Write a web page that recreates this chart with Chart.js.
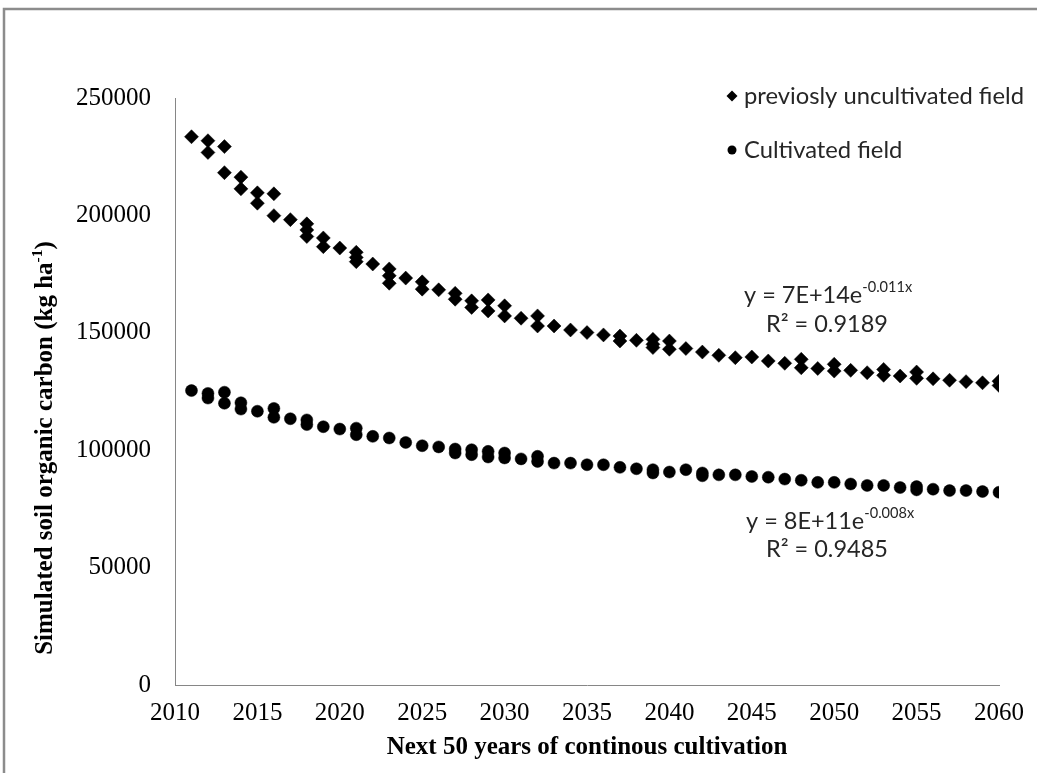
<!DOCTYPE html>
<html>
<head>
<meta charset="utf-8">
<title>Simulated soil organic carbon</title>
<script src="https://cdn.jsdelivr.net/npm/chart.js"></script>
<style>
  html, body { margin: 0; padding: 0; background: #ffffff; }
  #wrap { width: 1037px; height: 773px; position: relative; }
</style>
</head>
<body>
<div id="wrap"><canvas id="soc" width="1037" height="773"></canvas></div>
<script>
// Simulation years
const years = [
  2011, 2012, 2013, 2014, 2015, 2016, 2017, 2018, 2019, 2020,
  2021, 2022, 2023, 2024, 2025, 2026, 2027, 2028, 2029, 2030,
  2031, 2032, 2033, 2034, 2035, 2036, 2037, 2038, 2039, 2040,
  2041, 2042, 2043, 2044, 2045, 2046, 2047, 2048, 2049, 2050,
  2051, 2052, 2053, 2054, 2055, 2056, 2057, 2058, 2059, 2060
];

// Soil organic carbon (kg/ha), one list of simulated runs per year
const uncultivated = [
  [233500], [231800, 226800], [229300, 218200], [216300, 211300], [209600, 205200],
  [209200, 199900], [198200], [196400, 193800, 191000], [190400, 186700], [186100],
  [184300, 182100, 180300], [179300], [177200, 174300, 171100], [173300], [171700, 168600],
  [168300], [166800, 164300], [163600, 160800], [164000, 159300], [161500, 157200],
  [156200], [157200, 152900], [152900], [151200], [150100],
  [149100], [148600, 146500], [146800], [147200, 145100, 143700], [146500, 143000],
  [143300], [141800], [140400], [139400], [139700],
  [138000], [137000], [138700, 135100], [134800], [136600, 133700],
  [134000], [133000], [134400, 131900], [131600], [133300, 130600],
  [130400], [129800], [129200], [128700], [129400, 127600]
];

const cultivated = [
  [125400], [124200, 122200], [124700, 120000], [120200, 117500], [116600],
  [117800, 114000], [113400], [112900, 110900], [110000], [109000],
  [109400, 106600], [105900], [105200], [103300], [101900],
  [101400], [100500, 98800], [100200, 98100], [99500, 97100], [98800, 96700],
  [96300], [97400, 95200], [94500], [94500], [93800],
  [93800], [92700], [92100], [91700, 90300], [90700],
  [91700], [90300, 89100], [89500], [89500], [88800],
  [88500], [87700], [87200], [86300], [86300],
  [85600], [85000], [85000], [84100], [84500, 83100],
  [83400], [82800], [82800], [82400], [82100]
];

// Axis ticks
const xTicks = [2010, 2015, 2020, 2025, 2030, 2035, 2040, 2045, 2050, 2055, 2060];
const yTicks = [0, 50000, 100000, 150000, 200000, 250000];

// Series names and fitted trend annotations
const seriesNames = ['previosly uncultivated field', 'Cultivated field'];
const trendEquations = [
  { base: 'y = 7E+14e', exp: '-0.011x', r2: '0.9189' },
  { base: 'y = 8E+11e', exp: '-0.008x', r2: '0.9485' }
];

function toPoints(vals) {
  const pts = [];
  vals.forEach((runs, i) => runs.forEach(v => pts.push({ x: years[i], y: v })));
  return pts;
}

const SERIF = '"Liberation Serif", "Times New Roman", serif';
const SANS = 'Lato, "Open Sans", sans-serif';
const INK = '#262626';

function fitSize(ctx, text, family, weight, target) {
  ctx.font = weight + ' 20px ' + family;
  return 20 * target / ctx.measureText(text).width;
}

// Draws a run of normal + superscript pieces starting at x (left), vertical middle at y
function drawRich(ctx, x, y, pieces, size, family, weight) {
  let cx = x;
  pieces.forEach(p => {
    const s = p.sup ? size * 0.62 : size;
    ctx.font = weight + ' ' + s + 'px ' + family;
    ctx.fillText(p.t, cx, p.sup ? y - size * 0.33 : y);
    cx += ctx.measureText(p.t).width;
  });
  return cx - x;
}
function richWidth(ctx, pieces, size, family, weight) {
  let w = 0;
  pieces.forEach(p => {
    ctx.font = weight + ' ' + (p.sup ? size * 0.62 : size) + 'px ' + family;
    w += ctx.measureText(p.t).width;
  });
  return w;
}

function marker(ctx, style, x, y, r) {
  ctx.beginPath();
  if (style === 'rectRot') {
    ctx.moveTo(x, y - r); ctx.lineTo(x + r, y); ctx.lineTo(x, y + r); ctx.lineTo(x - r, y);
    ctx.closePath();
  } else {
    ctx.arc(x, y, r, 0, Math.PI * 2);
  }
  ctx.fill();
}

const TITLE_SIZE = 25;

const decorations = {
  id: 'decorations',
  afterDraw(chart) {
    const ctx = chart.ctx;
    const area = chart.chartArea;
    ctx.save();

    // outer frame (top and left edges)
    ctx.strokeStyle = '#8c8c8c';
    ctx.lineWidth = 2.5;
    ctx.beginPath();
    ctx.moveTo(4, 773); ctx.lineTo(4, 9); ctx.lineTo(1037, 9);
    ctx.stroke();

    ctx.fillStyle = '#000';
    ctx.textBaseline = 'middle';

    // x-axis title
    ctx.textAlign = 'center';
    ctx.font = 'bold ' + TITLE_SIZE + 'px ' + SERIF;
    ctx.fillText('Next 50 years of continous cultivation', (area.left + area.right) / 2, 748);

    // y-axis title with superscript unit
    ctx.textAlign = 'left';
    const yTitle = [
      { t: 'Simulated soil organic carbon (kg ha' },
      { t: '-1', sup: true },
      { t: ')' }
    ];
    const tw = richWidth(ctx, yTitle, TITLE_SIZE, SERIF, 'bold');
    ctx.save();
    ctx.translate(46, 448);
    ctx.rotate(-Math.PI / 2);
    drawRich(ctx, -tw / 2, 0, yTitle, TITLE_SIZE, SERIF, 'bold');
    ctx.restore();

    // legend
    const legSize = fitSize(ctx, seriesNames[0], SANS, 'normal', 280);
    const legRows = [
      { y: 96, style: 'rectRot', r: 5.5 },
      { y: 150, style: 'circle', r: 4.5 }
    ];
    chart.data.datasets.forEach((ds, i) => {
      ctx.fillStyle = '#000';
      marker(ctx, legRows[i].style, 732, legRows[i].y, legRows[i].r);
      ctx.fillStyle = INK;
      ctx.font = legSize + 'px ' + SANS;
      ctx.fillText(ds.label, 744, legRows[i].y);
    });

    // trend equations
    const eqSize = fitSize(ctx, 'R\u00b2 = ' + trendEquations[0].r2, SANS, 'normal', 122);
    const eqPos = [
      { x: 744, y: 295, rx: 766, ry: 324 },
      { x: 746, y: 521, rx: 766, ry: 549 }
    ];
    trendEquations.forEach((eq, i) => {
      const p = eqPos[i];
      ctx.fillStyle = INK;
      drawRich(ctx, p.x, p.y, [{ t: eq.base }, { t: eq.exp, sup: true }], eqSize, SANS, 'normal');
      ctx.font = eqSize + 'px ' + SANS;
      ctx.fillText('R\u00b2 = ' + eq.r2, p.rx, p.ry);
    });

    ctx.restore();
  }
};

new Chart(document.getElementById('soc'), {
  type: 'scatter',
  data: {
    datasets: [
      {
        label: seriesNames[0],
        data: toPoints(uncultivated),
        pointStyle: 'rectRot',
        pointRadius: 7,
        pointHoverRadius: 7,
        backgroundColor: '#000',
        borderColor: '#000',
        borderWidth: 0.5
      },
      {
        label: seriesNames[1],
        data: toPoints(cultivated),
        pointStyle: 'circle',
        pointRadius: 6,
        pointHoverRadius: 6,
        backgroundColor: '#000',
        borderColor: '#000',
        borderWidth: 0.5
      }
    ]
  },
  options: {
    responsive: false,
    animation: false,
    events: [],
    layout: { padding: { left: 0, top: 98, right: 36, bottom: 0 } },
    plugins: {
      legend: { display: false },
      tooltip: { enabled: false },
      title: { display: false }
    },
    scales: {
      x: {
        type: 'linear',
        min: xTicks[0],
        max: xTicks[xTicks.length - 1],
        afterBuildTicks(scale) { scale.ticks = xTicks.map(v => ({ value: v })); },
        afterFit(scale) { scale.height = 88; },
        grid: { display: false, drawTicks: false },
        border: { display: true, color: '#868686', width: 1 },
        ticks: {
          padding: 13,
          color: '#000',
          font: { family: SERIF, size: 25 },
          maxRotation: 0,
          autoSkip: false,
          callback: v => String(v)
        }
      },
      y: {
        type: 'linear',
        min: yTicks[0],
        max: yTicks[yTicks.length - 1],
        afterBuildTicks(scale) { scale.ticks = yTicks.map(v => ({ value: v })); },
        afterFit(scale) { scale.width = 175; },
        grid: { display: false, drawTicks: false },
        border: { display: true, color: '#868686', width: 1 },
        ticks: {
          padding: 24,
          color: '#000',
          font: { family: SERIF, size: 25 },
          autoSkip: false,
          callback: v => String(v)
        }
      }
    }
  },
  plugins: [decorations]
});
</script>
</body>
</html>
